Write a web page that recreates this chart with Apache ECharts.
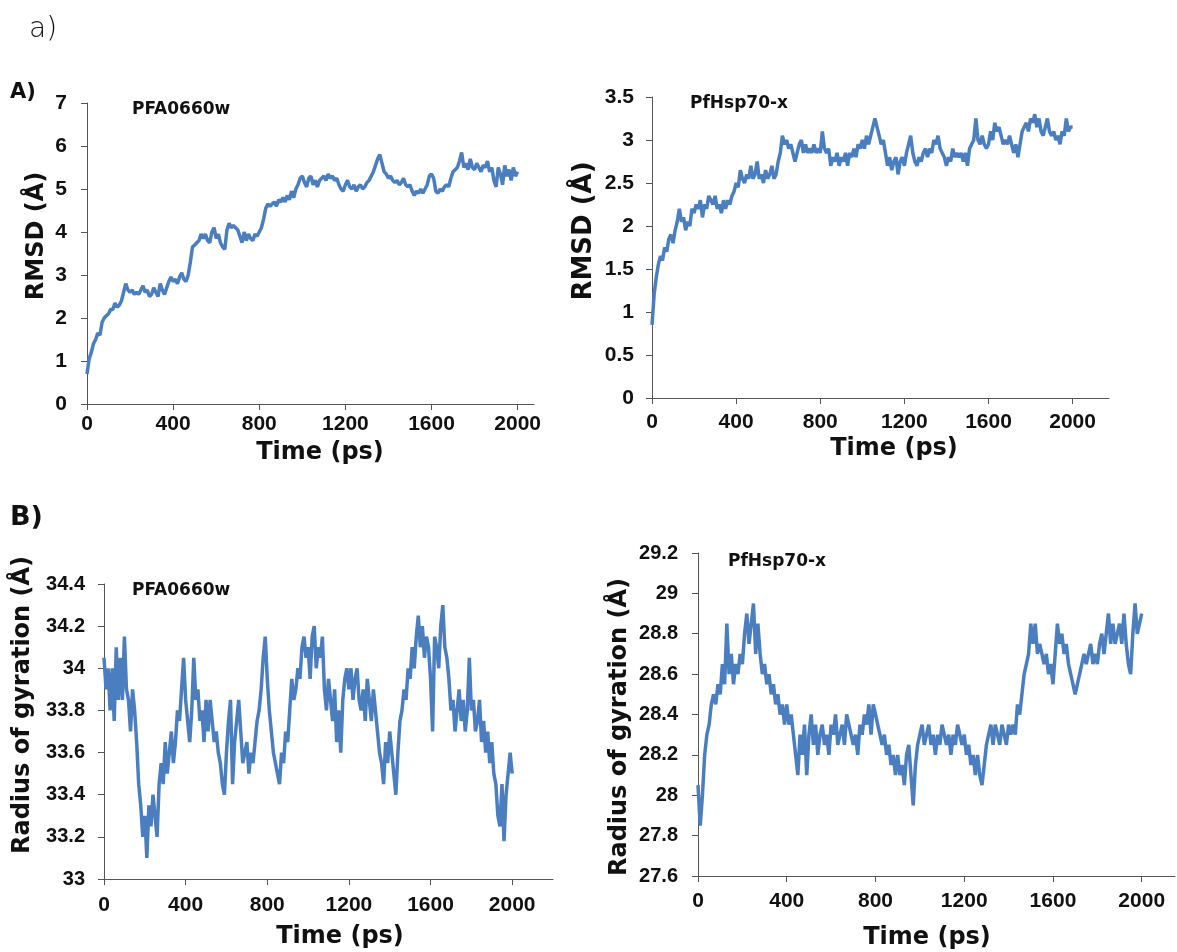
<!DOCTYPE html>
<html>
<head>
<meta charset="utf-8">
<title>RMSD / Rg</title>
<script src="https://cdn.jsdelivr.net/npm/echarts@6.0.0/dist/echarts.min.js"></script>
<style>
  html, body { margin: 0; padding: 0; background: #fff; }
  #main { width: 1177px; height: 952px; }
</style>
</head>
<body>
<div id="main"></div>
<script>
// sample times (ps)
const times = [
  0,10,20,30,40,50,60,70,80,90,
  100,110,120,130,140,150,160,170,180,190,
  200,210,220,230,240,250,260,270,280,290,
  300,310,320,330,340,350,360,370,380,390,
  400,410,420,430,440,450,460,470,480,490,
  500,510,520,530,540,550,560,570,580,590,
  600,610,620,630,640,650,660,670,680,690,
  700,710,720,730,740,750,760,770,780,790,
  800,810,820,830,840,850,860,870,880,890,
  900,910,920,930,940,950,960,970,980,990,
  1000,1010,1020,1030,1040,1050,1060,1070,1080,1090,
  1100,1110,1120,1130,1140,1150,1160,1170,1180,1190,
  1200,1210,1220,1230,1240,1250,1260,1270,1280,1290,
  1300,1310,1320,1330,1340,1350,1360,1370,1380,1390,
  1400,1410,1420,1430,1440,1450,1460,1470,1480,1490,
  1500,1510,1520,1530,1540,1550,1560,1570,1580,1590,
  1600,1610,1620,1630,1640,1650,1660,1670,1680,1690,
  1700,1710,1720,1730,1740,1750,1760,1770,1780,1790,
  1800,1810,1820,1830,1840,1850,1860,1870,1880,1890,
  1900,1910,1920,1930,1940,1950,1960,1970,1980,1990,
  2000
];

// A) RMSD, PFA0660w
const rmsdPFA = [
  0.7,1.05,1.2,1.4,1.5,1.65,1.6,1.9,2.0,2.05,
  2.1,2.2,2.2,2.35,2.25,2.3,2.4,2.6,2.8,2.65,
  2.6,2.65,2.55,2.6,2.55,2.65,2.75,2.6,2.65,2.5,
  2.55,2.7,2.6,2.5,2.8,2.65,2.55,2.7,2.85,2.95,
  2.85,2.9,2.8,2.95,3.05,2.9,2.85,3.0,3.3,3.65,
  3.7,3.75,3.8,3.95,3.85,3.95,3.8,3.75,4.0,4.1,
  3.85,3.95,3.75,3.65,3.6,4.05,4.2,4.1,4.15,4.1,
  4.05,3.9,3.75,4.0,3.8,3.95,3.85,3.8,3.95,3.9,
  4.0,4.1,4.3,4.55,4.65,4.6,4.65,4.7,4.6,4.75,
  4.7,4.8,4.7,4.85,4.75,4.95,4.8,5.0,5.1,5.25,
  5.3,5.15,5.05,5.25,5.3,5.1,5.2,5.05,5.2,5.25,
  5.3,5.2,5.35,5.25,5.3,5.2,5.25,5.1,5.0,4.95,
  5.1,5.2,5.05,5.0,5.1,4.95,5.05,5.1,5.0,5.05,
  5.15,5.2,5.3,5.4,5.55,5.7,5.8,5.6,5.4,5.35,
  5.25,5.3,5.2,5.15,5.2,5.1,5.15,5.25,5.1,5.05,
  5.1,4.95,4.85,4.95,4.9,5.0,4.9,5.0,5.1,5.3,
  5.35,5.25,4.95,4.9,5.0,4.95,5.05,5.1,5.05,5.25,
  5.4,5.45,5.5,5.65,5.85,5.5,5.6,5.45,5.7,5.5,
  5.45,5.6,5.5,5.4,5.55,5.5,5.65,5.4,5.5,5.2,
  5.05,5.5,5.35,5.1,5.55,5.3,5.45,5.2,5.5,5.3,
  5.4
];

// A) RMSD, PfHsp70-x
const rmsdHsp = [
  0.85,1.2,1.4,1.55,1.65,1.6,1.75,1.7,1.85,1.9,
  1.8,1.95,2.05,2.2,2.05,2.1,1.95,2.05,2.0,2.2,
  2.15,2.25,2.2,2.3,2.1,2.25,2.2,2.35,2.3,2.25,
  2.35,2.2,2.25,2.15,2.3,2.2,2.3,2.25,2.35,2.4,
  2.5,2.45,2.65,2.55,2.5,2.6,2.55,2.7,2.55,2.6,
  2.75,2.55,2.6,2.5,2.65,2.55,2.6,2.7,2.55,2.6,
  2.75,2.85,3.05,2.95,3.0,2.9,2.95,2.85,2.75,2.85,
  2.95,3.0,2.85,2.95,2.85,2.9,2.85,2.95,2.85,2.9,
  2.85,3.1,2.9,2.85,2.9,2.7,2.8,2.75,2.85,2.7,
  2.8,2.75,2.85,2.7,2.85,2.8,2.9,2.8,2.95,2.9,
  3.0,2.9,3.05,2.95,3.05,3.15,3.25,3.15,3.05,2.95,
  3.0,2.85,2.7,2.8,2.65,2.75,2.8,2.6,2.75,2.8,
  2.7,2.85,2.95,3.05,2.85,2.75,2.7,2.8,2.75,2.85,
  2.9,2.8,2.9,2.85,3.0,2.95,3.05,2.9,2.85,2.8,
  2.7,2.8,2.75,2.9,2.8,2.85,2.8,2.85,2.75,2.85,
  2.7,2.9,2.95,3.0,3.25,3.0,2.95,3.05,2.95,2.9,
  2.95,3.1,3.0,3.2,3.1,3.15,3.05,2.95,3.0,2.95,
  3.05,2.95,2.85,2.95,2.8,2.95,3.1,3.15,3.2,3.1,
  3.25,3.2,3.3,3.15,3.25,3.1,3.05,3.15,3.25,3.1,
  3.05,3.1,3.0,3.05,2.95,3.1,3.05,3.25,3.1,3.15,
  3.15
];

// B) radius of gyration, PFA0660w
const rgPFA = [
  34.05,33.9,34.0,33.8,34.0,33.75,34.1,33.85,34.05,33.85,
  34.15,33.9,33.85,33.7,33.9,33.8,33.65,33.45,33.35,33.2,
  33.3,33.1,33.35,33.25,33.4,33.3,33.2,33.45,33.55,33.45,
  33.65,33.5,33.6,33.7,33.55,33.65,33.8,33.75,33.9,34.05,
  33.85,33.75,33.65,33.8,34.05,33.85,33.9,33.75,33.8,33.65,
  33.85,33.7,33.85,33.75,33.65,33.7,33.6,33.55,33.45,33.4,
  33.6,33.75,33.85,33.45,33.65,33.75,33.85,33.7,33.55,33.6,
  33.65,33.5,33.6,33.55,33.65,33.75,33.8,33.9,34.05,34.15,
  33.95,33.8,33.7,33.6,33.55,33.5,33.45,33.6,33.55,33.7,
  33.65,33.8,33.95,33.85,33.9,34.0,33.95,34.1,34.15,34.05,
  34.1,33.95,34.15,34.2,34.0,34.1,34.05,34.15,33.9,33.8,
  33.95,33.85,33.75,33.9,33.65,33.8,33.6,33.85,33.95,34.0,
  33.9,34.0,33.85,33.95,34.0,33.85,33.8,33.9,33.75,33.95,
  33.85,33.75,33.9,33.8,33.7,33.6,33.55,33.45,33.65,33.55,
  33.7,33.6,33.5,33.4,33.6,33.75,33.8,33.9,33.85,34.0,
  33.95,34.1,34.0,34.15,34.25,34.1,34.2,34.05,34.15,34.1,
  33.95,33.7,34.15,34.1,34.0,34.2,34.3,34.1,34.05,33.95,
  33.8,33.85,33.7,33.8,33.9,33.75,33.85,33.7,33.8,34.05,
  33.8,33.85,33.7,33.75,33.85,33.65,33.75,33.6,33.7,33.55,
  33.65,33.5,33.45,33.3,33.25,33.45,33.18,33.4,33.5,33.6,
  33.5
];

// B) radius of gyration, PfHsp70-x
const rgHsp = [
  28.05,27.85,28.0,28.2,28.3,28.35,28.45,28.5,28.45,28.55,
  28.5,28.65,28.55,28.85,28.6,28.7,28.55,28.65,28.6,28.7,
  28.65,28.8,28.9,28.75,28.85,28.95,28.7,28.85,28.7,28.6,
  28.65,28.55,28.6,28.5,28.55,28.45,28.5,28.4,28.45,28.35,
  28.45,28.35,28.4,28.3,28.2,28.1,28.3,28.2,28.35,28.1,
  28.3,28.4,28.25,28.35,28.2,28.3,28.35,28.25,28.3,28.2,
  28.35,28.3,28.4,28.25,28.3,28.35,28.25,28.4,28.35,28.3,
  28.25,28.3,28.2,28.35,28.3,28.4,28.35,28.45,28.3,28.45,
  28.4,28.35,28.3,28.25,28.3,28.2,28.25,28.15,28.2,28.1,
  28.2,28.1,28.15,28.05,28.2,28.25,28.1,27.95,28.15,28.25,
  28.3,28.35,28.25,28.3,28.35,28.25,28.3,28.2,28.3,28.25,
  28.35,28.3,28.25,28.3,28.2,28.3,28.25,28.35,28.3,28.25,
  28.3,28.2,28.25,28.15,28.2,28.1,28.2,28.1,28.05,28.15,
  28.25,28.3,28.35,28.25,28.35,28.3,28.25,28.35,28.3,28.25,
  28.35,28.3,28.35,28.3,28.45,28.4,28.5,28.6,28.65,28.7,
  28.85,28.75,28.85,28.7,28.75,28.7,28.65,28.7,28.6,28.65,
  28.55,28.7,28.85,28.75,28.8,28.7,28.75,28.65,28.6,28.55,
  28.5,28.55,28.6,28.65,28.7,28.65,28.7,28.75,28.65,28.7,
  28.65,28.75,28.8,28.7,28.8,28.9,28.75,28.85,28.75,28.8,
  28.85,28.75,28.9,28.75,28.65,28.6,28.8,28.95,28.8,28.85,
  28.9
];

const timeTicks = [0, 400, 800, 1200, 1600, 2000];
const panelNames = ['PFA0660w', 'PfHsp70-x', 'PFA0660w', 'PfHsp70-x'];

const lineColor = '#4a7ebf';
const axisColor = '#555';
const tickFont = "'Liberation Sans', Arial, Helvetica, sans-serif";
const titleFont = "'DejaVu Sans', sans-serif";

// grid boxes in px, one per panel
const grids = [
  { left: 87, top: 103, width: 447, height: 301 },
  { left: 652, top: 97, width: 457, height: 301 },
  { left: 104, top: 584, width: 449, height: 295 },
  { left: 698, top: 553, width: 477, height: 323 }
];

function xAxisOf(idx, max, margin) {
  return {
    type: 'value', gridIndex: idx, min: 0, max: max,
    axisLine: { show: true, lineStyle: { color: axisColor, width: 1 } },
    axisTick: { show: true, length: 6, customValues: timeTicks, lineStyle: { color: axisColor } },
    axisLabel: {
      customValues: timeTicks, margin: margin, color: '#111',
      fontFamily: tickFont, fontWeight: 'bold', fontSize: 21,
      formatter: function (v) { return String(v); }
    },
    splitLine: { show: false }
  };
}

function yAxisOf(idx, min, max, step, size, margin) {
  return {
    type: 'value', gridIndex: idx, min: min, max: max, interval: step,
    axisLine: { show: true, lineStyle: { color: axisColor, width: 1 } },
    axisTick: { show: true, length: 6, lineStyle: { color: axisColor } },
    axisLabel: {
      margin: margin, color: '#111', fontFamily: tickFont, fontWeight: 'bold', fontSize: size,
      formatter: function (v) { return String(Math.round(v * 10) / 10); }
    },
    splitLine: { show: false }
  };
}

function lineOf(idx, values) {
  return {
    type: 'line', xAxisIndex: idx, yAxisIndex: idx,
    data: times.map((t, i) => [t, values[i]]),
    showSymbol: false, smooth: false,
    lineStyle: { color: lineColor, width: 3.5 },
    animation: false
  };
}

function txt(x, y, text, size, opts) {
  opts = opts || {};
  return {
    type: 'text', x: x, y: y, rotation: opts.rotation || 0,
    style: {
      text: text, fill: '#111',
      font: (opts.weight || 'bold') + ' ' + size + 'px ' + (opts.family || titleFont),
      align: opts.align || 'center', verticalAlign: 'middle'
    }
  };
}

const chart = echarts.init(document.getElementById('main'));
chart.setOption({
  backgroundColor: '#fff',
  animation: false,
  grid: grids,
  xAxis: [
    xAxisOf(0, 2076, 10),
    xAxisOf(1, 2173, 14),
    xAxisOf(2, 2200, 16),
    xAxisOf(3, 2150, 15)
  ],
  yAxis: [
    yAxisOf(0, 0, 7, 1, 21, 20),
    yAxisOf(1, 0, 3.5, 0.5, 21, 18),
    yAxisOf(2, 33, 34.4, 0.2, 20, 19),
    yAxisOf(3, 27.6, 29.2, 0.2, 20, 20)
  ],
  series: [
    lineOf(0, rmsdPFA),
    lineOf(1, rmsdHsp),
    lineOf(2, rgPFA),
    lineOf(3, rgHsp)
  ],
  graphic: [
    txt(29, 30, 'a)', 28, { weight: 'lighter', align: 'left' }),
    txt(10, 93, 'A)', 21, { align: 'left' }),
    txt(10, 518, 'B)', 27, { align: 'left' }),
    txt(132, 110, panelNames[0], 17, { align: 'left' }),
    txt(690, 104, panelNames[1], 17, { align: 'left' }),
    txt(132, 591, panelNames[2], 17, { align: 'left' }),
    txt(728, 562, panelNames[3], 17, { align: 'left' }),
    txt(320, 453, 'Time (ps)', 24),
    txt(894, 449, 'Time (ps)', 24),
    txt(340, 937, 'Time (ps)', 24),
    txt(927, 938, 'Time (ps)', 24),
    txt(37, 236, 'RMSD (Å)', 24, { rotation: Math.PI / 2 }),
    txt(584, 231, 'RMSD (Å)', 26, { rotation: Math.PI / 2 }),
    txt(23, 705, 'Radius of gyration (Å)', 24, { rotation: Math.PI / 2 }),
    txt(620, 727, 'Radius of gyration (Å)', 24, { rotation: Math.PI / 2 })
  ]
});
</script>
</body>
</html>
